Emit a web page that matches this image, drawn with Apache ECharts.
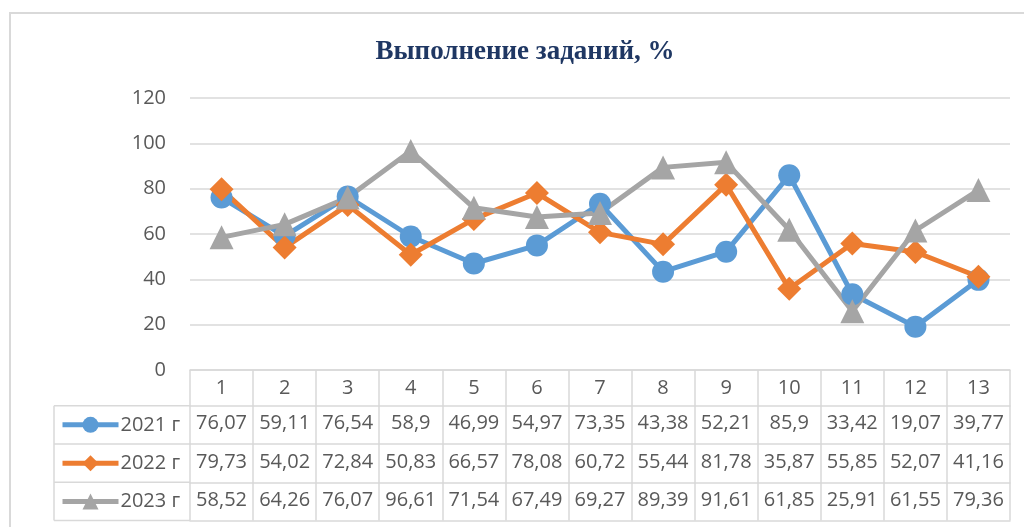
<!DOCTYPE html>
<html>
<head>
<meta charset="utf-8">
<script src="https://cdn.jsdelivr.net/npm/echarts@6/dist/echarts.min.js"></script>
<style>
  html, body { margin: 0; padding: 0; background: #fff; }
  #main { width: 1024px; height: 527px; }
</style>
</head>
<body>
<div id="main"></div>
<script>
var categories = ['1','2','3','4','5','6','7','8','9','10','11','12','13'];
var seriesNames = ['2021 г', '2022 г', '2023 г'];
var values2021 = [76.07, 59.11, 76.54, 58.9, 46.99, 54.97, 73.35, 43.38, 52.21, 85.9, 33.42, 19.07, 39.77];
var values2022 = [79.73, 54.02, 72.84, 50.83, 66.57, 78.08, 60.72, 55.44, 81.78, 35.87, 55.85, 52.07, 41.16];
var values2023 = [58.52, 64.26, 76.07, 96.61, 71.54, 67.49, 69.27, 89.39, 91.61, 61.85, 25.91, 61.55, 79.36];
var yTicks = [0, 20, 40, 60, 80, 100, 120];

var colors = ['#5b9bd5', '#ed7d31', '#a5a5a5'];
var symbols = ['circle', 'diamond', 'triangle'];
var rows = [values2021, values2022, values2023];

var lineColor = '#d9d9d9';
var textColor = '#595959';
var font = 'Open Sans';
var rowH = 38.3;
var headerH = 35.7;
var plotBottom = 370;
var tableLeft = 54;
var tableRight = 190;

function fmt(v) { return String(v).replace('.', ','); }

var xAxes = [{
  type: 'category',
  data: categories,
  position: 'bottom',
  axisLine: { show: true, lineStyle: { color: lineColor, width: 1.5 } },
  axisTick: { show: true, length: headerH, lineStyle: { color: lineColor, width: 1.5 } },
  axisLabel: { color: textColor, fontSize: 20, fontFamily: font, margin: 8 }
}];
rows.forEach(function (r, i) {
  xAxes.push({
    type: 'category',
    data: r.map(fmt),
    position: 'bottom',
    offset: headerH + i * rowH,
    axisLine: { show: true, lineStyle: { color: lineColor, width: 1.5 } },
    axisTick: { show: true, length: rowH, lineStyle: { color: lineColor, width: 1.5 } },
    axisLabel: { color: textColor, fontSize: 20, fontFamily: font, margin: 8, interval: 0 }
  });
});
xAxes.push({
  type: 'category',
  data: categories,
  position: 'bottom',
  offset: headerH + 3 * rowH,
  axisLine: { show: true, lineStyle: { color: lineColor, width: 1.5 } },
  axisTick: { show: false },
  axisLabel: { show: false }
});

var legends = seriesNames.map(function (n, i) {
  return {
    data: [n],
    left: 60,
    top: plotBottom + headerH + i * rowH + rowH / 2 - 10,
    padding: 0,
    itemWidth: 56,
    itemHeight: 20,
    lineStyle: { width: 5 },
    textStyle: { color: textColor, fontSize: 20, fontFamily: font, padding: [0, 0, 0, -3] }
  };
});

var graphics = [{
  type: 'rect',
  shape: { x: 10, y: 13, width: 1040, height: 540 },
  style: { fill: 'none', stroke: lineColor, lineWidth: 2 }
}, {
  type: 'line',
  shape: { x1: tableLeft, y1: plotBottom + headerH, x2: tableLeft, y2: plotBottom + headerH + 3 * rowH },
  style: { stroke: lineColor, lineWidth: 1.5 }
}];
for (var k = 0; k <= 3; k++) {
  var yy = plotBottom + headerH + k * rowH;
  graphics.push({
    type: 'line',
    shape: { x1: tableLeft, y1: yy, x2: tableRight, y2: yy },
    style: { stroke: lineColor, lineWidth: 1.5 }
  });
}

var myChart = echarts.init(document.getElementById('main'));
var option = {
  animation: false,
  title: {
    text: 'Выполнение заданий, %',
    left: 520,
    top: 34,
    textAlign: 'center',
    textStyle: { fontFamily: 'Liberation Serif', fontWeight: 'bold', fontSize: 27, color: '#1f3763' }
  },
  legend: legends,
  grid: { left: 190, right: 14, top: 98, bottom: 527 - plotBottom },
  xAxis: xAxes,
  yAxis: {
    type: 'value',
    min: yTicks[0],
    max: yTicks[yTicks.length - 1],
    interval: 20,
    axisLine: { show: false },
    axisTick: { show: false },
    axisLabel: { color: textColor, fontSize: 20, fontFamily: font, margin: 24 },
    splitLine: { lineStyle: { color: lineColor, width: 1.5 } }
  },
  graphic: graphics,
  series: rows.map(function (r, i) {
    return {
      name: seriesNames[i],
      type: 'line',
      data: r,
      symbol: symbols[i],
      symbolSize: i === 0 ? 22 : 24,
      showSymbol: true,
      lineStyle: { color: colors[i], width: 5 },
      itemStyle: { color: colors[i] }
    };
  })
};
myChart.setOption(option);
</script>
</body>
</html>
